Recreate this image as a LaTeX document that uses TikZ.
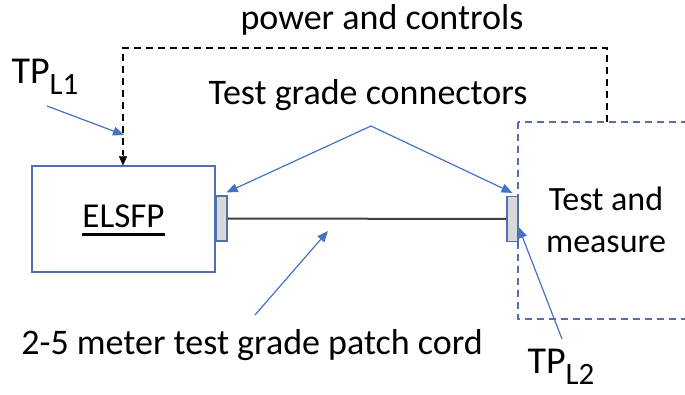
\documentclass[tikz,border=0pt]{standalone}
\usepackage{fontspec}
\setmainfont{Carlito}
\usetikzlibrary{arrows.meta,positioning,calc}
\definecolor{arrowblue}{HTML}{4472C4}
\definecolor{boxblue}{HTML}{4F6FB0}
\definecolor{cordgray}{HTML}{404040}
\begin{document}
\begin{tikzpicture}[x=1pt, y=-1pt,
    every node/.style={font=\fontsize{36}{42}\selectfont, inner sep=0pt},
    pointer/.style={arrowblue, line width=1.2pt, -{Triangle[length=11pt, width=9pt]}},
    ctrl/.style={black, line width=1.2pt, dash pattern=on 7pt off 5pt},
    plug/.style={draw=boxblue, fill=gray!30, line width=1.2pt, minimum width=11pt, minimum height=45pt}]
    \useasboundingbox (0,0) rectangle (685,395);

    % 左边：ELSFP 和连接器
    \node[draw=boxblue, line width=1.2pt, minimum width=183pt, minimum height=106pt] (elsfp) at (123.5,219) {};
    \node[font=\fontsize{35}{40}\selectfont] (elsfpname) at (123.5,216) {ELSFP};
    \draw[line width=2.6pt] ([yshift=-7pt]elsfpname.base west) -- ([yshift=-7pt]elsfpname.base east);
    \node[plug] (conL) at (221.5,218.5) {};

    % 右边：Test and measure（虚线框，右侧出画）
    \coordinate (tmNW) at (518,122);
    \coordinate (tmSE) at (700,319);
    \draw[boxblue, line width=1.2pt, dash pattern=on 7pt off 5pt] (tmNW) rectangle (tmSE);
    \node[align=center, font=\fontsize{34}{42}\selectfont] (tm) at (606,220) {Test and\\measure};
    \node[plug] (conR) at (512.5,219) {};

    % 跳线
    \draw[cordgray, line width=2pt] (conL.east) -- (conR.west);

    % power and controls
    \node (power) at (382,20) {power and controls};
    \coordinate (ctrlR) at (607,122);
    \coordinate (ctrlL) at (123,48);
    \draw[ctrl] (ctrlR) |- (ctrlL) -- ($(ctrlL |- elsfp.north)+(0,-10)$);
    \draw[black, -{Triangle[length=9pt, width=8pt]}] ($(ctrlL |- elsfp.north)+(0,-11)$) -- (ctrlL |- elsfp.north);

    % 标注
    \node (tgc) at (368,95) {Test grade connectors};
    \coordinate (fork) at (371,126);
    \draw[pointer] (fork) -- ([xshift=-1pt, yshift=3pt]conL.north east);
    \draw[pointer] (fork) -- ([yshift=3pt]conR.north);

    \node (tpl1) at (45,77) {\fontsize{38}{40}\selectfont TP\raisebox{-0.3em}{\fontsize{31}{32}\selectfont L1}};
    \coordinate (tpl1tail) at (47,106);
    \coordinate (tpl1tip) at (124,135);
    \draw[pointer] (tpl1tail) -- (tpl1tip);

    \node (cord) at (252,345) {2-5 meter test grade patch cord};
    \coordinate (cordtail) at (255,315);
    \coordinate (cordtip) at (328,231);
    \draw[pointer] (cordtail) -- (cordtip);

    \node (tpl2) at (561,367) {\fontsize{38}{40}\selectfont TP\raisebox{-0.3em}{\fontsize{31}{32}\selectfont L2}};
    \coordinate (tpl2tail) at (562,339);
    \draw[pointer] (tpl2tail) -- ([yshift=-8pt]conR.east);
\end{tikzpicture}
\end{document}
